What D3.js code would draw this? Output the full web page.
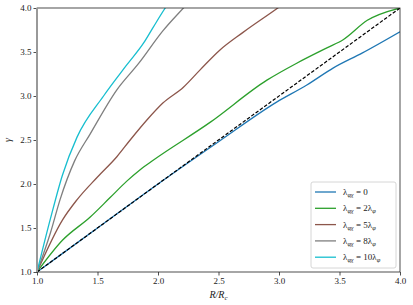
<!DOCTYPE html>
<html>
<head>
<meta charset="utf-8">
<script src="https://cdn.jsdelivr.net/npm/d3@7"></script>
<style>
  body { margin: 0; background: #fff; }
  text { font-family: "Liberation Serif", "DejaVu Serif", serif; fill: #222; }
</style>
</head>
<body>
<div id="chart"></div>
<script>
// Data: R/Rc vs gamma for each lambda value
var lambda0 = [[1,1],[1.5,1.5],[2,2],[2.5,2.48],[2.98,2.93],[3.23,3.125],[3.45,3.32],[3.69,3.49],[4,3.73]];
var lambda2 = [[1,1],[1.21,1.36],[1.44,1.625],[1.6,1.84],[1.74,2.03],[1.85,2.16],[1.96,2.27],[2.43,2.7],[2.9,3.18],[3.15,3.375],[3.4,3.55],[3.53,3.64],[3.73,3.86],[4,4.0]];
var lambda5 = [[1,1],[1.21,1.59],[1.33,1.82],[1.5,2.08],[1.66,2.31],[1.77,2.5],[1.91,2.73],[2.04,2.92],[2.21,3.1],[2.35,3.3],[2.51,3.52],[2.7,3.72],[2.99,4.0],[3.05,4.06]];
var lambda8 = [[1,1],[1.11,1.44],[1.19,1.82],[1.31,2.26],[1.44,2.57],[1.66,3.07],[1.84,3.37],[2.04,3.74],[2.21,4.0],[2.25,4.06]];
var lambda10 = [[1,1],[1.11,1.6],[1.21,2.1],[1.33,2.53],[1.55,3.0],[1.74,3.35],[1.88,3.6],[1.96,3.78],[2.06,4.0],[2.09,4.06]];

var seriesNames = ["0", "2", "5", "8", "10"];
var seriesData = [lambda0, lambda2, lambda5, lambda8, lambda10];
var seriesColors = ["#1f77b4", "#2ca02c", "#8c564b", "#7f7f7f", "#17becf"];

var xTicks = [1.0, 1.5, 2.0, 2.5, 3.0, 3.5, 4.0];
var yTicks = [1.0, 1.5, 2.0, 2.5, 3.0, 3.5, 4.0];

var margin = {top: 8, right: 13, bottom: 33, left: 37};
var width = 413 - margin.left - margin.right;
var height = 305 - margin.top - margin.bottom;

var svg = d3.select("#chart").append("svg")
    .attr("width", 413)
    .attr("height", 305);

var g = svg.append("g")
    .attr("transform", "translate(" + margin.left + "," + margin.top + ")");

var x = d3.scaleLinear().domain([1, 4]).range([0, width]);
var y = d3.scaleLinear().domain([1, 4]).range([height, 0]);

g.append("clipPath").attr("id", "clip")
  .append("rect").attr("width", width).attr("height", height);

var line = d3.line()
    .curve(d3.curveMonotoneX)
    .x(function(d) { return x(d[0]); })
    .y(function(d) { return y(d[1]); });

var plot = g.append("g").attr("clip-path", "url(#clip)");

seriesData.forEach(function(s, i) {
    plot.append("path")
        .attr("d", line(s))
        .attr("fill", "none")
        .attr("stroke", seriesColors[i])
        .attr("stroke-width", 1.3);
});

// y = x reference
plot.append("path")
    .attr("d", line([[1, 1], [4, 4]]))
    .attr("fill", "none")
    .attr("stroke", "#000")
    .attr("stroke-width", 1.2)
    .attr("stroke-dasharray", "3.5,1.8");

// axes
var xAxis = g.append("g")
    .attr("transform", "translate(0," + height + ")")
    .call(d3.axisBottom(x).tickValues(xTicks).tickFormat(d3.format(".1f")).tickSize(3.5).tickPadding(2));
var yAxis = g.append("g")
    .call(d3.axisLeft(y).tickValues(yTicks).tickFormat(d3.format(".1f")).tickSize(3.5).tickPadding(2));

[xAxis, yAxis].forEach(function(a) {
    a.select(".domain").remove();
    a.selectAll("line").attr("stroke", "#222").attr("stroke-width", 0.8);
    a.selectAll("text").style("font-family", "Liberation Serif, serif").style("font-size", "9px").attr("fill", "#222");
});

// frame
g.append("rect")
    .attr("width", width).attr("height", height)
    .attr("fill", "none").attr("stroke", "#222").attr("stroke-width", 0.8);
g.append("line")
    .attr("x1", 0).attr("x2", 0).attr("y1", 0).attr("y2", height)
    .attr("stroke", "#999").attr("stroke-width", 2);

// axis labels
svg.append("text")
    .attr("x", margin.left + width / 2)
    .attr("y", 298)
    .attr("text-anchor", "middle")
    .style("font-size", "10px")
    .style("font-style", "italic")
    .html("R/R<tspan dy='2' font-size='7px'>c</tspan>");

svg.append("text")
    .attr("transform", "translate(11," + (margin.top + height / 2) + ") rotate(-90)")
    .attr("text-anchor", "middle")
    .style("font-size", "10px")
    .style("font-style", "italic")
    .text("γ");

// legend
var legend = g.append("g").attr("transform", "translate(" + (width - 89) + "," + (height - 90) + ")");
legend.append("rect")
    .attr("width", 85).attr("height", 86).attr("rx", 2)
    .attr("fill", "#fff").attr("fill-opacity", 0.8)
    .attr("stroke", "#ccc").attr("stroke-width", 0.8);

seriesNames.forEach(function(n, i) {
    var row = legend.append("g").attr("transform", "translate(0," + (10 + i * 16.3) + ")");
    row.append("line")
        .attr("x1", 4).attr("x2", 25)
        .attr("stroke", seriesColors[i]).attr("stroke-width", 1.3);
    var t = row.append("text")
        .attr("x", 32).attr("y", 3)
        .style("font-size", "9px");
    t.append("tspan").text("λ");
    t.append("tspan").attr("dy", 2).style("font-size", "6.5px").style("font-style", "italic").text("φχ");
    t.append("tspan").attr("dy", -2).text(" = " + (n === "0" ? "0" : n + "λ"));
    if (n !== "0") {
        t.append("tspan").attr("dy", 2).style("font-size", "6.5px").style("font-style", "italic").text("φ");
    }
});
</script>
</body>
</html>
